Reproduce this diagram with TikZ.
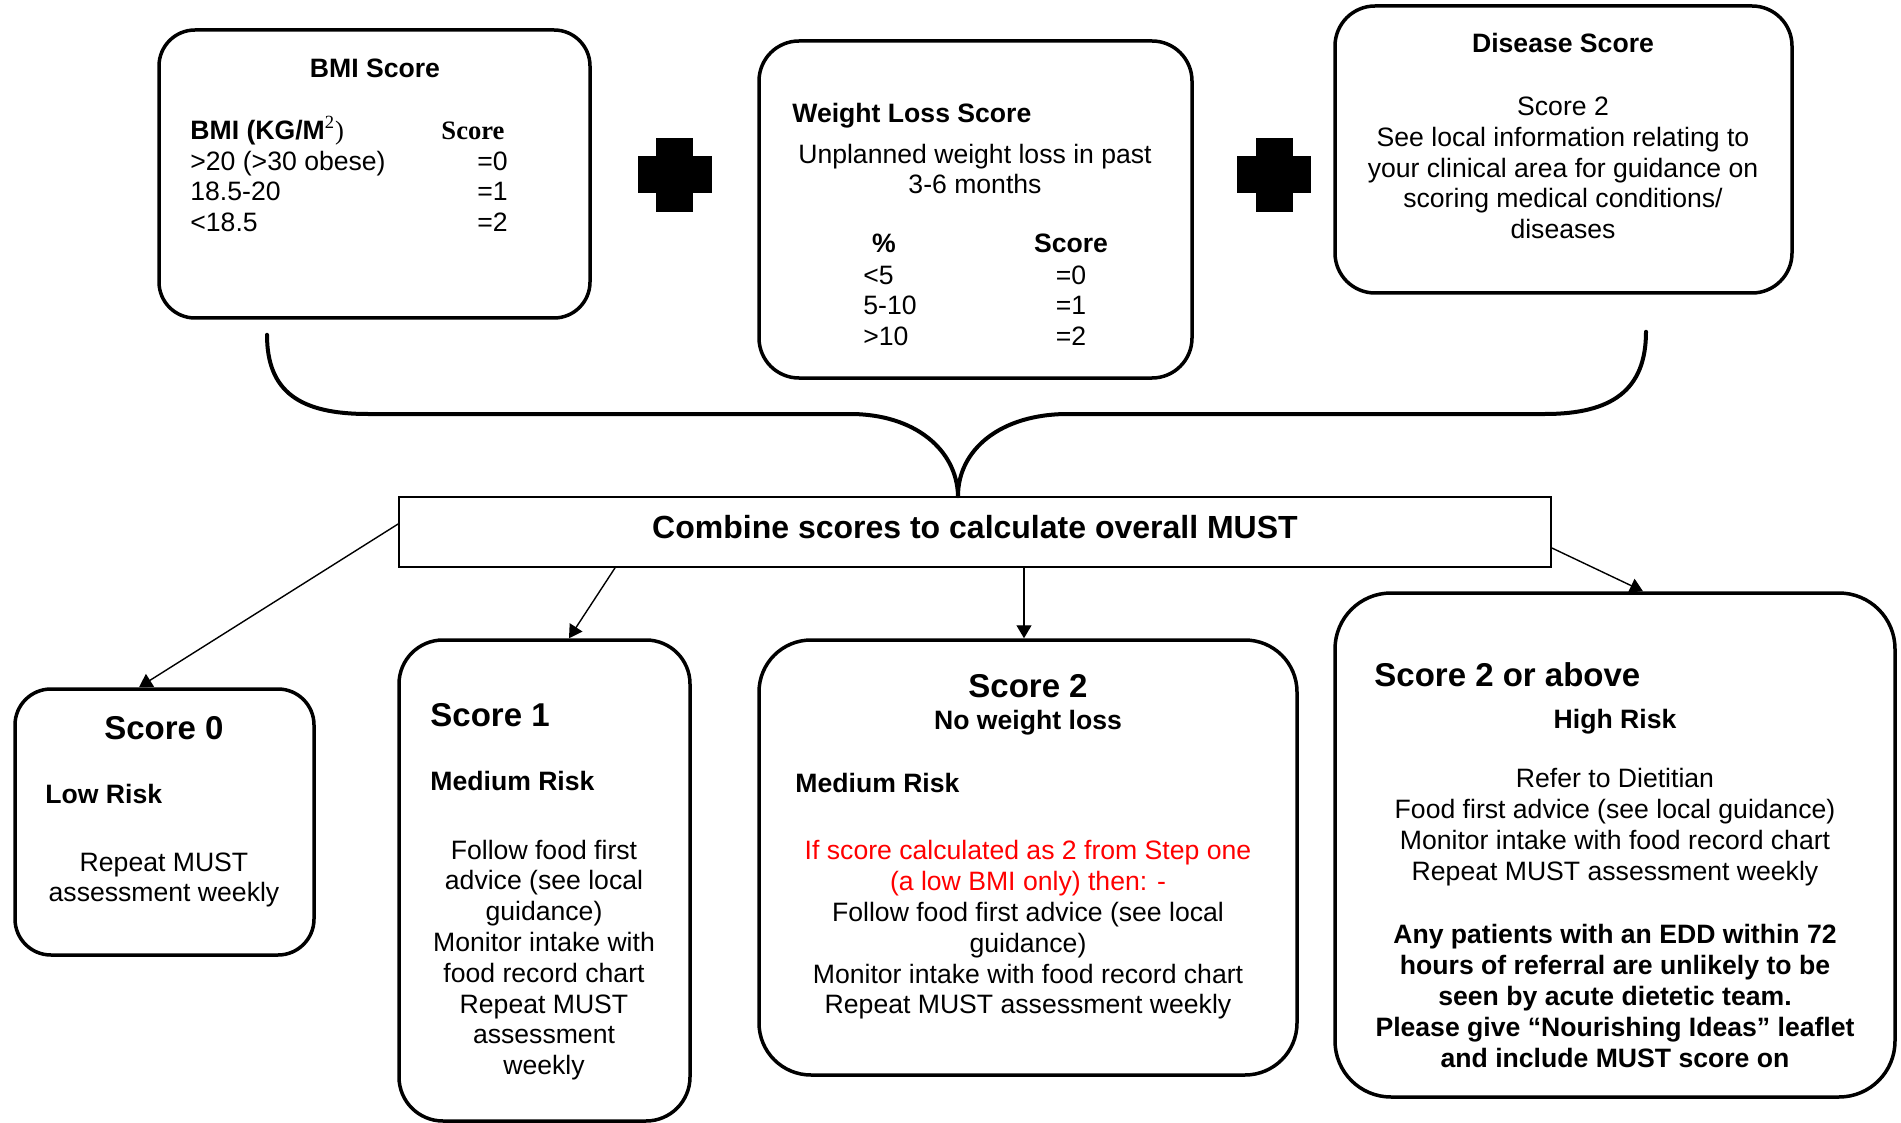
\documentclass[tikz,border=0pt]{standalone}
\usepackage{fontspec}
\setmainfont{Liberation Sans}
\newfontfamily\seriff{Liberation Serif}
\usetikzlibrary{arrows.meta,calc}
\definecolor{warnred}{RGB}{255,0,0}
\newcommand\bodyf{\fontsize{13.3}{15.4}\selectfont}
\newcommand\bigf{\fontsize{16.5}{19}\selectfont\bfseries}
\newcommand\combf{\fontsize{16}{19}\selectfont\bfseries}
\begin{document}
\begin{tikzpicture}[x=0.5pt,y=-0.5pt,
  rbox/.style={draw=black,line width=1.75pt,fill=white,inner sep=0pt},
  sqbox/.style={draw=black,line width=0.9pt,fill=white,inner sep=0pt},
  txt/.style={inner sep=0pt,font=\bodyf,yshift=-2.5pt},
  btxt/.style={inner sep=0pt,font=\bodyf\bfseries,yshift=-2.5pt},
  bigt/.style={inner sep=0pt,font=\bigf,yshift=-3.5pt},
  para/.style={inner sep=0pt,font=\bodyf,align=center,yshift=-2.5pt},
  arr/.style={line width=0.7pt,-{Triangle[width=7.5pt,length=6.5pt]}},
  bracel/.style={line width=2pt,line cap=round}
]
\useasboundingbox (0,0) rectangle (1901,1123);

% ---------- top boxes ----------
\node[rbox,rounded corners=18pt,minimum width=215.5pt,minimum height=144pt] (bmi) at (374.5,174) {};
\node[rbox,rounded corners=20pt,minimum width=216.5pt,minimum height=168.5pt] (wl) at (975.5,209.5) {};
\node[rbox,rounded corners=20pt,minimum width=228.5pt,minimum height=143.5pt] (dis) at (1563.5,149.5) {};

% plus signs
\node[inner sep=0pt,minimum size=37pt] (plusA) at (674.5,175) {};
\node[inner sep=0pt,minimum size=37pt] (plusB) at (1274,175) {};
\foreach \p in {plusA,plusB}{
  \fill[black] ($(\p.center)+(-9.25pt,18.5pt)$) rectangle ($(\p.center)+(9.25pt,-18.5pt)$);
  \fill[black] ($(\p.center)+(-18.5pt,9.25pt)$) rectangle ($(\p.center)+(18.5pt,-9.25pt)$);
}

% BMI box text
\node[btxt,anchor=mid] (bmiT) at (375,67) {BMI Score};
\node[btxt,anchor=mid west] (bmiH) at (190,129) {BMI (KG/M\textsuperscript{\seriff\mdseries 2}{\seriff\mdseries )}};
\node[inner sep=0pt,font=\fontsize{13.3}{15.4}\selectfont\seriff\bfseries,anchor=mid,yshift=-2.5pt] (bmiS) at (473,129) {Score};
\node[txt,anchor=mid west] (bmiR1) at (190,160) {>20 (>30 obese)};
\node[txt,anchor=mid west] (bmiR2) at (190,190) {18.5-20};
\node[txt,anchor=mid west] (bmiR3) at (190,221) {<18.5};
\node[txt,anchor=mid east] (bmiV1) at (508,160) {=0};
\node[txt,anchor=mid east] (bmiV2) at (508,190) {=1};
\node[txt,anchor=mid east] (bmiV3) at (508,221) {=2};

% Weight loss text
\node[btxt,anchor=mid west] (wlT) at (792,112) {Weight Loss Score};
\node[para] (wlP) at (975,164) {Unplanned weight loss in past\\3-6 months};
\node[btxt,anchor=mid] (wlH1) at (884,242) {\%};
\node[btxt,anchor=mid] (wlH2) at (1071,242) {Score};
\node[txt,anchor=mid west] (wlR1) at (863,274) {<5};
\node[txt,anchor=mid west] (wlR2) at (863,304) {5-10};
\node[txt,anchor=mid west] (wlR3) at (863,335) {>10};
\node[txt,anchor=mid] (wlV1) at (1071,274) {=0};
\node[txt,anchor=mid] (wlV2) at (1071,304) {=1};
\node[txt,anchor=mid] (wlV3) at (1071,335) {=2};

% Disease text
\node[btxt,anchor=mid] (disT) at (1563,42) {Disease Score};
\node[para] (disP) at (1563,163) {Score 2\\See local information relating to\\your clinical area for guidance on\\scoring medical conditions/\\diseases};

% ---------- brace ----------
\node[sqbox,minimum width=576pt,minimum height=35pt] (comb) at (975,532) {};
\node[inner sep=0pt,font=\combf,anchor=mid,yshift=-3pt] (combT) at (975,527) {Combine scores to calculate overall MUST};

\coordinate (brL) at ([xshift=-53.75pt,yshift=-7.5pt]bmi.south);
\coordinate (brR) at ([xshift=41.25pt,yshift=-18.5pt]dis.south);
\coordinate (brTip) at ([xshift=-8.5pt]comb.north);
\draw[bracel] (brL) .. controls (267,392) and (300,414) .. (368,414) -- (850,414)
  .. controls (915,414) and (957,450) .. (brTip);
\draw[bracel] (brR) .. controls (1646,390) and (1612,414) .. (1545,414) -- (1068,414)
  .. controls (1000,414) and (958,450) .. (brTip);

% ---------- bottom boxes ----------
\node[rbox,rounded corners=18pt,minimum width=149.5pt,minimum height=133pt] (s0) at (164.5,822) {};
\node[rbox,rounded corners=22pt,minimum width=145.5pt,minimum height=240.5pt] (s1) at (544.5,880.5) {};
\node[rbox,rounded corners=26pt,minimum width=269pt,minimum height=217.5pt] (s2) at (1028,857.5) {};
\node[rbox,rounded corners=28pt,minimum width=280pt,minimum height=252pt] (s3) at (1615,845) {};

% arrows
\draw[arr] ([yshift=4pt]comb.west) -- ([xshift=-12.75pt]s0.north);
\draw[arr] ([xshift=-180pt]comb.south) -- ([xshift=12.25pt]s1.north);
\draw[arr] ([xshift=24.5pt]comb.south) -- ([xshift=-2pt]s2.north);
\draw[arr] ([yshift=-8pt]comb.east) -- ([xshift=14pt]s3.north);

% Score 0
\node[bigt,anchor=mid] (s0T) at (164,727) {Score 0};
\node[btxt,anchor=mid west] (s0R) at (45,793) {Low Risk};
\node[para] (s0P) at (164,875) {Repeat MUST\\assessment weekly};

% Score 1
\node[bigt,anchor=mid west] (s1T) at (430,714) {Score 1};
\node[btxt,anchor=mid west] (s1R) at (430,780) {Medium Risk};
\node[para] (s1P) at (544,955) {Follow food first\\advice (see local\\guidance)\\Monitor intake with\\food record chart\\Repeat MUST\\assessment\\weekly};

% Score 2
\node[bigt,anchor=mid] (s2T) at (1028,685) {Score 2};
\node[btxt,anchor=mid] (s2N) at (1028,719) {No weight loss};
\node[btxt,anchor=mid west] (s2R) at (795,782) {Medium Risk};
\node[para] (s2P) at (1028,925) {\color{warnred}If score calculated as 2 from Step one\\\color{warnred}(a low BMI only) then: -\\Follow food first advice (see local\\guidance)\\Monitor intake with food record chart\\Repeat MUST assessment weekly};

% Score 2 or above
\node[bigt,anchor=mid west] (s3T) at (1374,674) {Score 2 or above};
\node[btxt,anchor=mid] (s3R) at (1615,718) {High Risk};
\node[para] (s3P) at (1615,822) {Refer to Dietitian\\Food first advice (see local guidance)\\Monitor intake with food record chart\\Repeat MUST assessment weekly};
\node[para,font=\bodyf\bfseries] (s3B) at (1615,991) {Any patients with an EDD within 72\\hours of referral are unlikely to be\\seen by acute dietetic team.\\Please give “Nourishing Ideas” leaflet\\and include MUST score on};
\end{tikzpicture}
\end{document}
